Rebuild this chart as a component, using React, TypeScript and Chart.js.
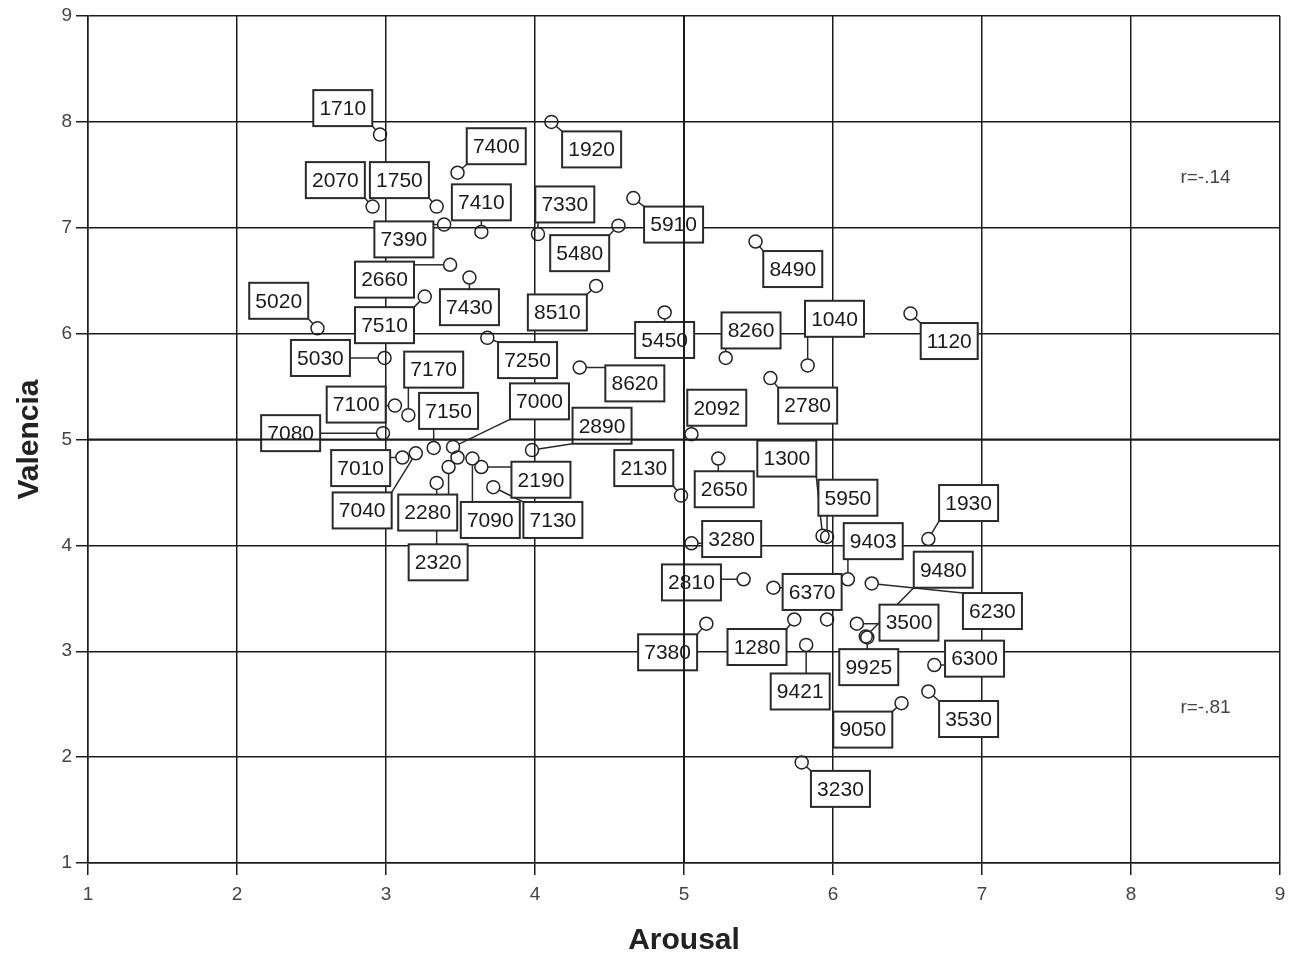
import React, { useEffect, useRef } from "react";
import { Chart, registerables } from "chart.js";

Chart.register(...registerables);

// Case identifiers (empty string = point without a label)
const caseIds = [
  "1710", "1920", "7400", "2070", "1750", "7390", "7410", "7330", "5480", "5910",
  "8490", "2660", "7430", "7510", "8510", "5020", "5030", "7250", "8620", "5450",
  "8260", "1040", "1120", "2780", "7100", "7170", "7080", "7150", "7000", "7010",
  "7040", "2280", "", "7090", "2190", "7130", "2320", "2890", "2092", "2130",
  "2650", "1300", "5950", "1930", "9403", "3280", "2810", "6370", "1280", "",
  "9421", "6230", "3500", "9480", "9925", "6300", "3530", "9050", "3230", "7380",
];

// Arousal (x) of each point
const arousal = [
  2.96, 4.11, 3.48, 2.91, 3.34, 3.39, 3.64, 4.02, 4.56, 4.66,
  5.48, 3.43, 3.56, 3.26, 4.41, 2.54, 2.99, 3.68, 4.30, 4.87,
  5.28, 5.83, 6.52, 5.58, 3.06, 3.15, 2.98, 3.32, 3.45, 3.11,
  3.20, 3.42, 3.48, 3.58, 3.64, 3.72, 3.34, 3.98, 5.05, 4.98,
  5.23, 5.93, 5.96, 6.64, 6.10, 5.05, 5.40, 5.60, 5.74, 5.96,
  5.82, 6.26, 6.16, 6.22, 6.23, 6.68, 6.64, 6.46, 5.79, 5.15,
];

// Valencia (y) of each point
const valencia = [
  7.88, 8.00, 7.52, 7.20, 7.20, 7.03, 6.96, 6.94, 7.02, 7.28,
  6.87, 6.65, 6.53, 6.35, 6.45, 6.05, 5.77, 5.96, 5.68, 6.20,
  5.77, 5.70, 6.19, 5.58, 5.32, 5.23, 5.06, 4.92, 4.93, 4.83,
  4.87, 4.74, 4.83, 4.82, 4.74, 4.55, 4.59, 4.90, 5.05, 4.47,
  4.82, 4.09, 4.08, 4.06, 3.68, 4.02, 3.68, 3.60, 3.30, 3.30,
  3.06, 3.64, 3.26, 3.14, 3.13, 2.87, 2.62, 2.51, 1.95, 3.26,
];

// Where each case label sits (in data units)
const labelArousal = [
  2.71, 4.38, 3.74, 2.66, 3.09, 3.12, 3.64, 4.20, 4.30, 4.93,
  5.73, 2.99, 3.56, 2.99, 4.15, 2.28, 2.56, 3.95, 4.67, 4.87,
  5.45, 6.01, 6.78, 5.83, 2.80, 3.32, 2.36, 3.42, 4.03, 2.83,
  2.84, 3.28, 0, 3.70, 4.04, 4.12, 3.35, 4.45, 5.22, 4.73,
  5.27, 5.69, 6.10, 6.91, 6.27, 5.32, 5.05, 5.86, 5.49, 0,
  5.78, 7.07, 6.51, 6.74, 6.24, 6.95, 6.91, 6.20, 6.05, 4.89,
];
const labelValencia = [
  8.13, 7.74, 7.77, 7.45, 7.45, 6.89, 7.24, 7.22, 6.76, 7.03,
  6.61, 6.51, 6.25, 6.08, 6.20, 6.31, 5.77, 5.75, 5.53, 5.94,
  6.03, 6.14, 5.93, 5.32, 5.33, 5.66, 5.06, 5.27, 5.36, 4.73,
  4.33, 4.31, 0, 4.24, 4.62, 4.24, 3.84, 5.13, 5.30, 4.73,
  4.53, 4.82, 4.45, 4.40, 4.04, 4.06, 3.65, 3.56, 3.04, 0,
  2.62, 3.38, 3.27, 3.77, 2.85, 2.93, 2.36, 2.26, 1.70, 2.99,
];

// Correlation annotations
const corrTexts = ["r=-.14", "r=-.81"];
const corrArousal = [8.5, 8.5];
const corrValencia = [7.47, 2.47];

// Reference lines
const refArousal = 5;
const refValencia = 5;

const axisMin = 1;
const axisMax = 9;
const xTitle = "Arousal";
const yTitle = "Valencia";

const FONT = '"Liberation Sans", Arial, Helvetica, sans-serif';
const LINE = "#1c1c1c";

export default function App() {
  const canvasRef = useRef<HTMLCanvasElement>(null);

  useEffect(() => {
    const canvas = canvasRef.current;
    if (!canvas) return;

    const labelPlugin = {
      id: "caseLabels",
      afterDatasetsDraw(chart: any) {
        const ctx = chart.ctx as CanvasRenderingContext2D;
        const xs = chart.scales.x;
        const ys = chart.scales.y;
        const area = chart.chartArea;
        const R = 6.5;
        ctx.save();
        ctx.font = `21px ${FONT}`;
        const boxes: any[] = [];
        caseIds.forEach((id, i) => {
          if (!id) return;
          const px = xs.getPixelForValue(arousal[i]);
          const py = ys.getPixelForValue(valencia[i]);
          const cx = xs.getPixelForValue(labelArousal[i]);
          const cy = ys.getPixelForValue(labelValencia[i]);
          const w = Math.round(ctx.measureText(id).width + 12);
          const h = 36;
          boxes.push({ id, px, py, l: cx - w / 2, t: cy - h / 2, w, h, cx, cy });
        });

        // leader lines
        ctx.strokeStyle = "#2a2a2a";
        ctx.lineWidth = 1.5;
        boxes.forEach((b) => {
          const nx = Math.min(Math.max(b.px, b.l), b.l + b.w);
          const ny = Math.min(Math.max(b.py, b.t), b.t + b.h);
          const dx = nx - b.px;
          const dy = ny - b.py;
          const d = Math.hypot(dx, dy);
          if (d > R + 1.5) {
            ctx.beginPath();
            ctx.moveTo(b.px + (dx / d) * R, b.py + (dy / d) * R);
            ctx.lineTo(nx, ny);
            ctx.stroke();
          }
        });

        // label boxes
        boxes.forEach((b) => {
          ctx.fillStyle = "#ffffff";
          ctx.fillRect(b.l, b.t, b.w, b.h);
          ctx.strokeStyle = "#2a2a2a";
          ctx.lineWidth = 2;
          ctx.strokeRect(b.l, b.t, b.w, b.h);
          ctx.fillStyle = "#1a1a1a";
          ctx.textAlign = "center";
          ctx.textBaseline = "middle";
          ctx.fillText(b.id, b.cx, b.cy + 1);
        });

        // reference lines on top
        ctx.strokeStyle = LINE;
        ctx.lineWidth = 2;
        const rx = xs.getPixelForValue(refArousal);
        const ry = ys.getPixelForValue(refValencia);
        ctx.beginPath();
        ctx.moveTo(rx, area.top);
        ctx.lineTo(rx, area.bottom);
        ctx.moveTo(area.left, ry);
        ctx.lineTo(area.right, ry);
        ctx.stroke();

        // correlation texts
        ctx.font = `19px ${FONT}`;
        ctx.fillStyle = "#444";
        ctx.textAlign = "center";
        ctx.textBaseline = "middle";
        corrTexts.forEach((t, i) => {
          ctx.fillText(t, xs.getPixelForValue(corrArousal[i]), ys.getPixelForValue(corrValencia[i]));
        });
        ctx.restore();
      },
      afterDraw(chart: any) {
        const ctx = chart.ctx as CanvasRenderingContext2D;
        const area = chart.chartArea;
        ctx.save();
        ctx.font = `bold 30px ${FONT}`;
        ctx.fillStyle = "#222";
        ctx.textAlign = "center";
        ctx.textBaseline = "middle";
        ctx.fillText(xTitle, (area.left + area.right) / 2, 941);
        ctx.translate(30, (area.top + area.bottom) / 2);
        ctx.rotate(-Math.PI / 2);
        ctx.fillText(yTitle, 0, 0);
        ctx.restore();
      },
    };

    const gridCfg = {
      color: LINE,
      lineWidth: 1.5,
      tickLength: 12,
      drawTicks: true,
      tickColor: LINE,
    };

    const chart = new Chart(canvas, {
      type: "scatter",
      data: {
        datasets: [
          {
            data: arousal.map((x, i) => ({ x, y: valencia[i] })),
            pointRadius: 6.5,
            pointBorderWidth: 1.5,
            borderColor: "#222",
            backgroundColor: "rgba(0,0,0,0)",
            pointHoverRadius: 6.5,
          },
        ],
      },
      options: {
        responsive: false,
        animation: false,
        events: [],
        layout: { padding: { left: 0, top: 16, right: 15, bottom: 0 } },
        plugins: {
          legend: { display: false },
          tooltip: { enabled: false },
        },
        scales: {
          x: {
            type: "linear",
            min: axisMin,
            max: axisMax,
            ticks: {
              stepSize: 1,
              padding: 8,
              color: "#444",
              font: { family: FONT, size: 19 },
            },
            grid: gridCfg,
            border: { display: true, color: LINE, width: 1.5 },
            afterFit: (s: any) => {
              s.height = 94;
            },
          },
          y: {
            type: "linear",
            min: axisMin,
            max: axisMax,
            ticks: {
              stepSize: 1,
              padding: 4,
              color: "#444",
              font: { family: FONT, size: 19 },
            },
            grid: gridCfg,
            border: { display: true, color: LINE, width: 1.5 },
            afterFit: (s: any) => {
              s.width = 88;
            },
          },
        },
      },
      plugins: [labelPlugin],
    } as any);

    return () => chart.destroy();
  }, []);

  return (
    <div
      style={{
        position: "absolute",
        left: 0,
        top: 0,
        width: 1295,
        height: 957,
        background: "#fff",
      }}
    >
      <canvas ref={canvasRef} width={1295} height={957} />
    </div>
  );
}
